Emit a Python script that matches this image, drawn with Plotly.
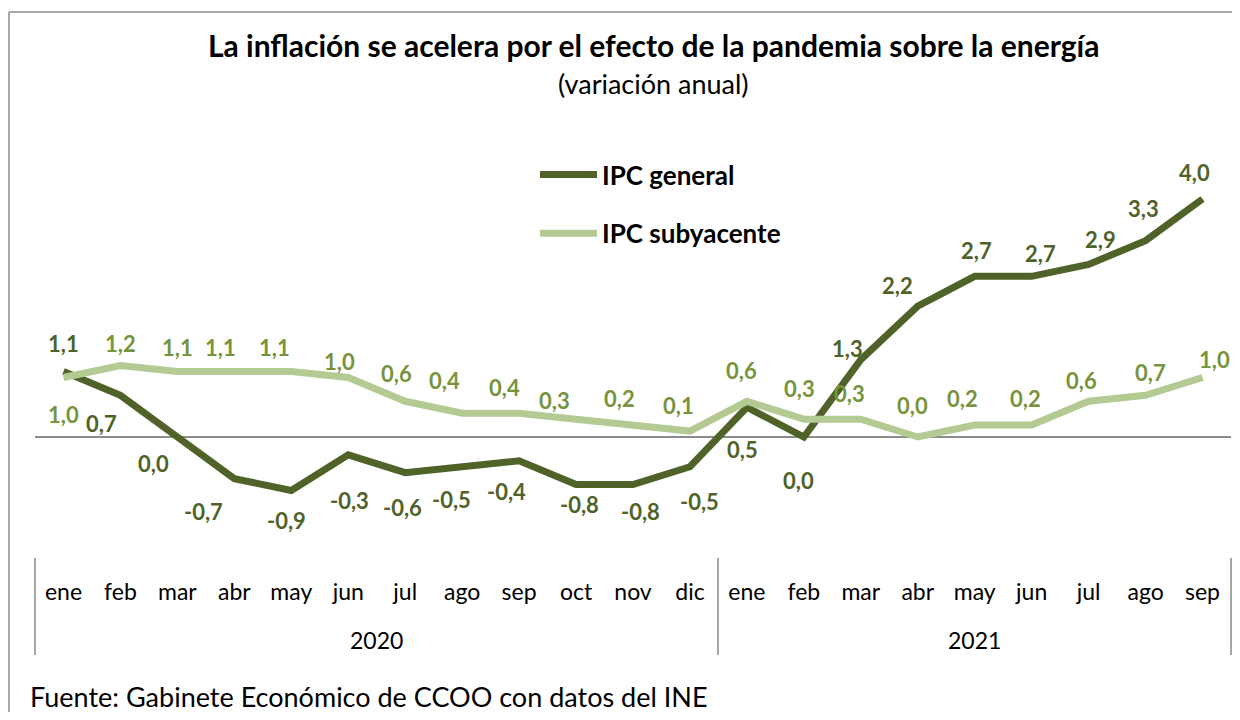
import plotly.graph_objects as go

# data
years = ["2020"] * 12 + ["2021"] * 9
months = ["ene", "feb", "mar", "abr", "may", "jun", "jul", "ago", "sep", "oct", "nov", "dic",
          "ene", "feb", "mar", "abr", "may", "jun", "jul", "ago", "sep"]
ipc_general = [1.1, 0.7, 0.0, -0.7, -0.9, -0.3, -0.6, -0.5, -0.4, -0.8, -0.8, -0.5,
               0.5, 0.0, 1.3, 2.2, 2.7, 2.7, 2.9, 3.3, 4.0]
ipc_subyacente = [1.0, 1.2, 1.1, 1.1, 1.1, 1.0, 0.6, 0.4, 0.4, 0.3, 0.2, 0.1,
                  0.6, 0.3, 0.3, 0.0, 0.2, 0.2, 0.6, 0.7, 1.0]

# label offsets in pixels (dx, dy; dy positive = down)
general_dx = [0, -19, -24, -31, -5, 1, -3, -11, -13, 3, 7, 10, -4, -5, -13, -20, 2, 9, 12, -2, -8]
general_dy = [-28, 28, 26, 33, 30, 46, 35, 33, 31, 20, 27, 35, 42, 43, -11, -21, -26, -23, -25, -32, -27]
suby_dx = [0, 0, 0, -14, -17, -9, -9, -18, -15, -22, -14, -11, -5, -4, -11, -5, -12, -6, -7, 5, 12]
suby_dy = [37, -22, -24, -24, -24, -16, -28, -33, -26, -19, -27, -26, -31, -31, -26, -32, -27, -27, -21, -23, -18]

DARK = "#4F6228"
LIGHT = "#B3CB93"
LIGHT_TXT = "#77933C"
FONT = "Lato"

# the page adds an 8px body margin on every side, so the figure is shrunk
# to fit the window; positions below are page pixels shifted back by 8
OFF = 8
W, H = 1240 - 2 * OFF, 720 - 2 * OFF
top_px, bottom_px, left_px, right_px = 130, 557, 35, 1231
zero_px = 437
unit = 59.5
ml, mr = left_px - OFF, W - (right_px - OFF)
mt, mb = top_px - OFF, H - (bottom_px - OFF)
pw, ph = W - ml - mr, H - mt - mb


def px(x):
    return (x - OFF - ml) / pw


def py(y):
    return (H - mb - (y - OFF)) / ph


# blank second line makes room between the month row and the year row
tick_months = [m + "<br><span style='font-size:55px'> </span>" for m in months]

fig = go.Figure()
fig.add_trace(go.Scatter(x=[years, tick_months], y=ipc_general, mode="lines", name="IPC general",
                         line=dict(color=DARK, width=7), legendgroup="g"))
fig.add_trace(go.Scatter(x=[years, tick_months], y=ipc_subyacente, mode="lines", name="IPC subyacente",
                         line=dict(color=LIGHT, width=7), legendgroup="s"))


def fmt(v):
    return f"{v:.1f}".replace(".", ",")


annotations = []
for i, v in enumerate(ipc_general):
    annotations.append(dict(x=i, y=v, xref="x2", yref="y", text=fmt(v), showarrow=False,
                            xshift=general_dx[i], yshift=-general_dy[i],
                            font=dict(family=FONT, size=22, color=DARK, weight="bold")))
for i, v in enumerate(ipc_subyacente):
    annotations.append(dict(x=i, y=v, xref="x2", yref="y", text=fmt(v), showarrow=False,
                            xshift=suby_dx[i], yshift=-suby_dy[i],
                            font=dict(family=FONT, size=22, color=LIGHT_TXT, weight="bold")))

annotations.append(dict(x=px(653), y=py(45), xref="paper", yref="paper", showarrow=False,
                        yanchor="middle",
                        text="La inflación se acelera por el efecto de la pandemia sobre la energía",
                        font=dict(family=FONT, size=30, color="black", weight="bold")))
annotations.append(dict(x=px(653), y=py(83), xref="paper", yref="paper", showarrow=False,
                        yanchor="middle",
                        text="(variación anual)", font=dict(family=FONT, size=27, color="black")))
annotations.append(dict(x=px(28), y=py(696), xref="paper", yref="paper", showarrow=False,
                        xanchor="left", yanchor="middle",
                        text="Fuente: Gabinete Económico de CCOO con datos del INE",
                        font=dict(family=FONT, size=27, color="black")))

frame = dict(color="#8C8C8C", width=1.5)
fig.update_layout(
    width=W, height=H,
    margin=dict(l=ml, r=mr, t=mt, b=mb, autoexpand=False),
    paper_bgcolor="white", plot_bgcolor="white",
    font=dict(family=FONT, size=23, color="black"),
    showlegend=True,
    legend=dict(x=px(535), y=py(151), xanchor="left", yanchor="top",
                font=dict(family=FONT, size=26, color="black", weight="bold"),
                tracegroupgap=22, bgcolor="rgba(0,0,0,0)", itemwidth=57),
    xaxis=dict(type="multicategory", showgrid=False, showline=False, ticks="",
               ticklabelstandoff=19,
               dividercolor="#A6A6A6", dividerwidth=1.5,
               tickfont=dict(family=FONT, size=23, color="black"), range=[-0.5, 20.5]),
    xaxis2=dict(overlaying="x", range=[-0.5, 20.5], visible=False),
    yaxis=dict(range=[-(bottom_px - zero_px) / unit, (zero_px - top_px) / unit],
               showgrid=False, showticklabels=False, zeroline=True,
               zerolinecolor="#8C8C8C", zerolinewidth=1.5),
    annotations=annotations,
    shapes=[
        dict(type="line", xref="paper", yref="paper", x0=px(OFF + 1), x1=px(1300),
             y0=py(12), y1=py(12), line=frame),
        dict(type="line", xref="paper", yref="paper", x0=px(OFF + 1), x1=px(OFF + 1),
             y0=py(12), y1=py(800), line=frame),
    ],
)

fig.write_html("out.html")
